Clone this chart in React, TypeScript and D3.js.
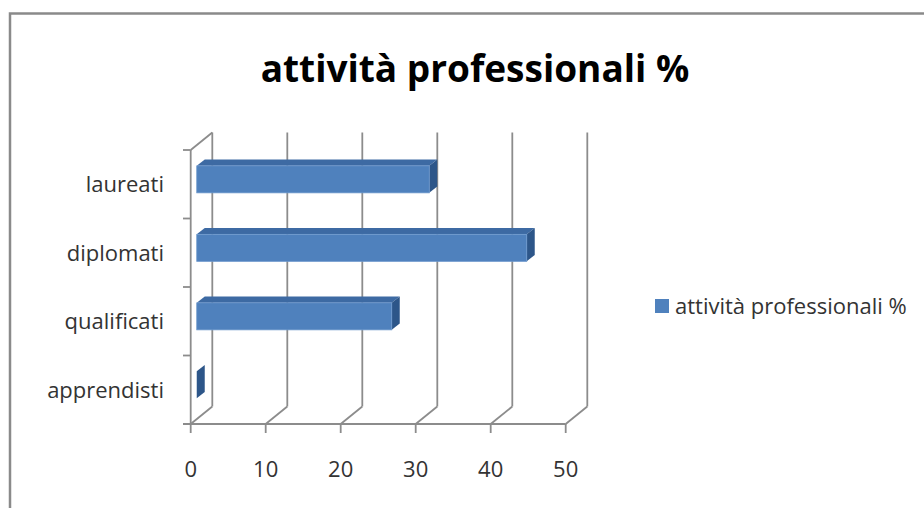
import React from "react";
import * as d3 from "d3";

const categories = ["laureati", "diplomati", "qualificati", "apprendisti"];
const values = [31, 44, 26, 0];
const xTicks = [0, 10, 20, 30, 40, 50];
const title = "attività professionali %";
const seriesName = "attività professionali %";

export default function App() {
  const W = 924, H = 508;
  const x = d3.scaleLinear().domain([0, 50]).range([190.7, 565.7]);
  const y = d3.scaleBand().domain(categories).range([150, 424]);
  const DX = 21.6, DY = -17.5;
  const f0 = 0.28, f1 = 0.65;
  const barH = 27;
  const grid = "#8c8c8c";
  const font = "'Open Sans', sans-serif";

  const bars = categories.map((c, i) => {
    const v = values[i];
    const cy = (y(c) as number) + y.bandwidth() / 2;
    const x0 = x(0) + f0 * DX;
    const x1 = x(v) + f0 * DX;
    const top = cy - barH / 2 + f0 * DY;
    const bot = top + barH;
    const ddx = (f1 - f0) * DX, ddy = (f1 - f0) * DY;
    return (
      <g key={c}>
        <path d={`M${x0},${top}L${x0 + ddx},${top + ddy}L${x1 + ddx},${top + ddy}L${x1},${top}Z`} fill="#3d6aa3" />
        <path d={`M${x1},${top}L${x1 + ddx},${top + ddy}L${x1 + ddx},${bot + ddy}L${x1},${bot}Z`} fill="#2d5689" />
        {v > 0 && <rect x={x0} y={top} width={x1 - x0} height={barH} fill="#4f81bd" stroke="#6b97cc" strokeWidth={0.8} />}
      </g>
    );
  });

  const yTop = 150, yBot = 424;
  return (
    <svg width={W} height={H} style={{ position: "absolute", left: 0, top: 0, background: "#fff" }}>
      <rect x={0} y={0} width={W} height={H} fill="#fff" />
      <path d={`M10,${H}L10,13.5L${W},13.5`} fill="none" stroke="#8a8a8a" strokeWidth={2.5} />
      <text x={475} y={82} textAnchor="middle" fontFamily={font} fontWeight="bold" fontSize={37} fill="#000">{title}</text>
      {xTicks.map(t => (
        <g key={t}>
          <line x1={x(t) + DX} y1={yTop + DY} x2={x(t) + DX} y2={yBot + DY} stroke={grid} strokeWidth={1.8} />
          <line x1={x(t)} y1={yBot} x2={x(t) + DX} y2={yBot + DY} stroke={grid} strokeWidth={1.8} />
          <line x1={x(t)} y1={yBot} x2={x(t)} y2={yBot + 9} stroke={grid} strokeWidth={1.8} />
          <text x={x(t)} y={477} textAnchor="middle" fontFamily={font} fontSize={22} fill="#333">{t}</text>
        </g>
      ))}
      <line x1={x(0)} y1={yTop} x2={x(0)} y2={yBot} stroke={grid} strokeWidth={1.8} />
      <line x1={x(0)} y1={yTop} x2={x(0) + DX} y2={yTop + DY} stroke={grid} strokeWidth={1.8} />
      <line x1={183} y1={yBot} x2={x(50)} y2={yBot} stroke={grid} strokeWidth={1.8} />
      {[...categories.map(c => y(c) as number), yBot].map((yy, i) => (
        <line key={i} x1={183} y1={yy} x2={x(0)} y2={yy} stroke={grid} strokeWidth={1.8} />
      ))}
      {categories.map(c => (
        <text key={c} x={164} y={(y(c) as number) + y.bandwidth() / 2 + 8} textAnchor="end" fontFamily={font} fontSize={22} fill="#333">{c}</text>
      ))}
      {bars}
      <rect x={655} y={299} width={14} height={14} fill="#4f81bd" />
      <text x={675} y={314} fontFamily={font} fontSize={22} fill="#333">{seriesName}</text>
    </svg>
  );
}
